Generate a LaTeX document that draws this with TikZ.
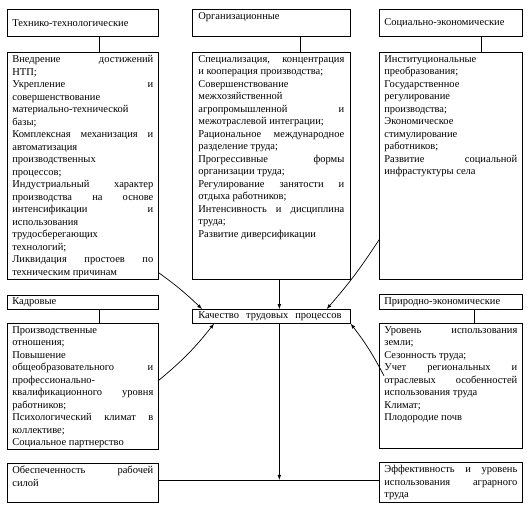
\documentclass[tikz,border=0pt]{standalone}
\usepackage{fontspec}
\setmainfont{Liberation Serif}
\usetikzlibrary{arrows,calc}

\begin{document}
\begin{tikzpicture}[>=latex, x=1pt, y=-1pt]
	\tikzstyle{cell}=[draw, line width=0.7pt, anchor=north west, inner xsep=5pt, inner ysep=3pt, font=\fontsize{10.5}{12.5}\selectfont]
	\tikzstyle{head}=[cell, inner ysep=0pt, align=left]
	\tikzstyle{link}=[line width=0.7pt, ->]

	\newcommand{\CellText}[3]{\parbox[c][#2][t]{#1}{\tolerance=10000 \hyphenpenalty=10000 \exhyphenpenalty=10000 #3}}

	\useasboundingbox (0,0) rectangle (532,507);

	\node (techH) [head, text width=141pt, minimum height=27pt] at (7,9) {Технико-технологические};
	\node (orgH) [cell, inner xsep=6pt] at (192,9) {\CellText{146pt}{21pt}{Организационные}};
	\node (socH) [head, text width=133pt, minimum height=27pt] at (379,9) {Социально-экономические};

	\node (techB) [cell] at (7,52) {\CellText{141pt}{221pt}{Внедрение достижений\linebreak НТП;\\
		Укрепление и\linebreak совершенствование\linebreak материально-технической\linebreak базы;\\
		Комплексная механизация и\linebreak автоматизация\linebreak производственных\linebreak процессов;\\
		Индустриальный характер\linebreak производства на основе\linebreak интенсификации и\linebreak использования\linebreak трудосберегающих\linebreak технологий;\\
		Ликвидация простоев по\linebreak техническим причинам}};
	\node (orgB) [cell, inner xsep=6pt] at (192,52) {\CellText{146pt}{221pt}{Специализация, концентрация\linebreak и кооперация производства;\\
		Совершенствование\linebreak межхозяйственной\linebreak агропромышленной и\linebreak межотраслевой интеграции;\\
		Рациональное международное\linebreak разделение труда;\\
		Прогрессивные формы\linebreak организации труда;\\
		Регулирование занятости и\linebreak отдыха работников;\\
		Интенсивность и дисциплина\linebreak труда;\\
		Развитие диверсификации}};
	\node (socB) [cell] at (379,52) {\CellText{133pt}{221pt}{Институциональные\linebreak преобразования;\\
		Государственное\linebreak регулирование\linebreak производства;\\
		Экономическое\linebreak стимулирование\linebreak работников;\\
		Развитие социальной\linebreak инфрастуктуры села}};

	\node (kadrH) [head, text width=141pt, minimum height=14pt] at (7,295) {Кадровые};
	\node (prirH) [head, text width=133pt, minimum height=15pt] at (379,294) {Природно-экономические};
	\node (quality) [head, text width=146pt, inner xsep=6pt, minimum height=14pt] at (192,309) {Качество\ \ трудовых\ \ процессов};

	\node (kadrB) [cell] at (7,323) {\CellText{141pt}{120pt}{Производственные\linebreak отношения;\\
		Повышение\linebreak общеобразовательного и\linebreak профессионально-\linebreak квалификационного уровня\linebreak работников;\\
		Психологический климат в\linebreak коллективе;\\
		Социальное партнерство}};
	\node (prirB) [cell] at (379,323) {\CellText{133pt}{119pt}{Уровень использования\linebreak земли;\\
		Сезонность труда;\\
		Учет региональных и\linebreak отраслевых особенностей\linebreak использования труда\\
		Климат;\\
		Плодородие почв}};

	\node (supply) [cell] at (7,463) {\CellText{141pt}{33pt}{Обеспеченность рабочей\linebreak силой}};
	\node (effic) [cell] at (379,462) {\CellText{133pt}{34pt}{Эффективность и уровень\linebreak использования аграрного\linebreak труда}};

	\draw [line width=0.7pt] ($(techH.south)+(16,0)$) -- ($(techB.north)+(16,0)$);
	\draw [line width=0.7pt] ($(orgH.south)+(29,0)$) -- ($(orgB.north)+(29,0)$);
	\draw [line width=0.7pt] ($(socH.south)+(30,0)$) -- ($(socB.north)+(30,0)$);
	\draw [line width=0.7pt] ($(kadrH.south)+(16,0)$) -- ($(kadrB.north)+(16,0)$);
	\draw [line width=0.7pt] ($(prirH.south)+(23,0)$) -- ($(prirB.north)+(23,0)$);

	\draw [link] ($(orgB.south)+(8,0)$) -- ($(quality.north)+(8,0)$);
	\draw [link] ($(techB.south east)+(0,-7)$) to[bend left=4] ($(quality.north west)+(10,0)$);
	\draw [link] ($(socB.west)+(0,74)$) to[bend left=4] ($(quality.north east)+(-24,0)$);
	\draw [link] ($(kadrB.east)+(0,-6)$) to[bend right=6] ($(quality.south west)+(22,0)$);
	\draw [link] ($(prirB.west)+(5,-10)$) to[bend right=5] (quality.south east);

	\coordinate (left) at ($(supply.east)+(0,-3)$);
	\coordinate (down) at ($(quality.south)+(8,0)$);
	\draw [line width=0.7pt] (left) -- (left -| effic.west);
	\draw [link] (down) -- (down |- left);
\end{tikzpicture}
\end{document}
